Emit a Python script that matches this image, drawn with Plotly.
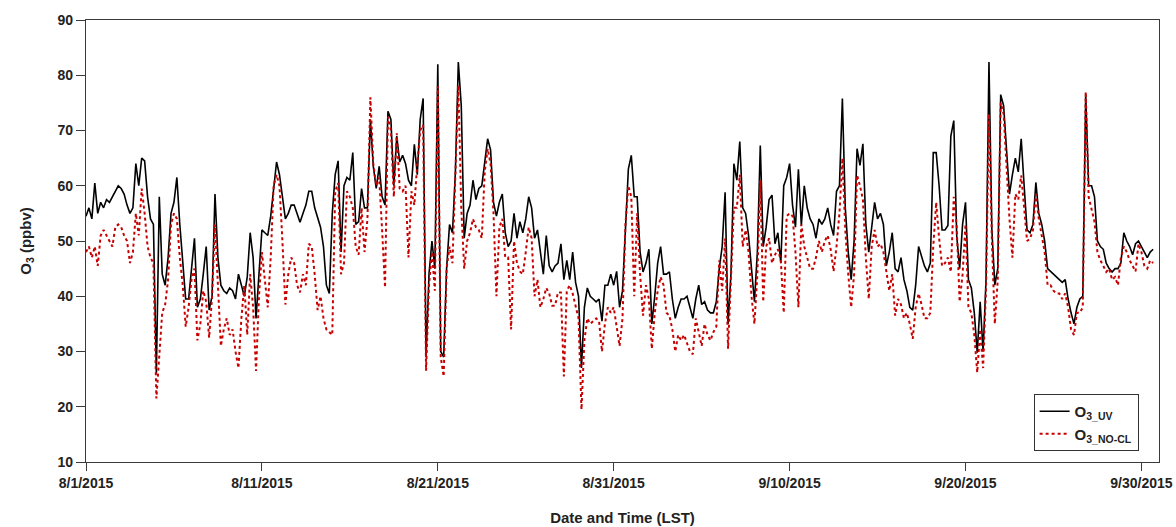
import pandas as pd
import plotly.graph_objects as go

# 4-hourly readings starting 2015-08-01 00:00 LST
start_time = "2015-08-01 00:00"
step = "4h"

o3_uv = [
    54.5, 56, 54, 60.5, 55, 57, 56, 57.5, 57, 58,
    59, 60, 59.5, 58.5, 56.5, 55, 56, 64, 60, 65,
    64.5, 58, 54, 53, 26, 58, 44, 42, 47, 55,
    57, 61.5, 53, 46, 39.5, 39.5, 45, 50.5, 38, 39.5,
    44, 49, 37.5, 40, 58.5, 47, 42, 41, 40.5, 41.5,
    41, 39.5, 44, 42, 40, 43.5, 51.5, 47, 36, 44,
    # i60
    52, 51.5, 51, 54.5, 59.5, 64.3, 62, 57.5, 54, 55,
    56.5, 56.5, 55, 53.4, 55, 56.5, 59, 59, 56, 54,
    52.5, 49, 42, 40.5, 55, 62, 64.5, 48, 60, 61.5,
    61, 66, 53, 53.5, 59.5, 56, 56, 72, 63.5, 59.5,
    63.5, 58, 56.5, 73.5, 72, 60, 69, 64.3, 65.5, 64,
    61, 60, 67.5, 62, 72, 75.8, 29, 44, 50, 45,
    # i120
    82, 30, 29, 45, 53, 51.5, 62.5, 82.4, 74.5, 50.5,
    55, 56.5, 61, 57.5, 59.5, 60, 64.3, 68.5, 66.5, 57,
    54.5, 57, 58.5, 51.5, 49, 50, 55, 50.5, 53.5, 51.5,
    54, 58, 56, 50.5, 52, 48, 44, 51, 45.5, 44.4,
    45.5, 46, 49.5, 43, 46.5, 43, 48, 42.5, 40, 27,
    38, 41.5, 40, 39.5, 39, 39.5, 35.5, 42, 42, 44,
    # i180
    42, 44.5, 38, 41, 51, 63, 65.5, 58, 58, 48,
    44.4, 46, 48.5, 35, 40, 46, 49, 44, 44, 44.4,
    39.5, 36, 38, 39.5, 39.5, 40, 38, 36, 39.5, 42,
    38.5, 39, 37.5, 37, 37, 39, 45, 49, 58.8, 35,
    44, 64, 61, 68, 56, 55, 51, 45, 39, 48,
    67.3, 49, 52.5, 57.5, 58.3, 49.5, 51.5, 46, 60, 61.5,
    # i240
    64, 56.5, 52.5, 63, 52.8, 60, 56, 54, 53, 50.5,
    54, 53, 54, 56, 53, 51, 59, 60, 75.8, 56,
    48, 43, 50, 66.7, 63.7, 67.6, 53, 48, 53, 57,
    54, 55, 53, 45.5, 48, 51.5, 45, 44.4, 47, 43,
    41, 38, 37.5, 42, 49, 47, 45.5, 44.4, 46, 66,
    66, 60, 52, 52, 52.8, 69, 71.8, 51, 45, 53,
    # i300
    57, 43, 41.5, 37, 29.8, 39, 30, 43, 82.4, 52,
    42, 45, 76.5, 74.5, 66, 58.5, 62, 65, 62.5, 68.5,
    60, 52, 51.5, 53, 60.6, 55, 53, 50, 45, 44.5,
    44, 43.5, 43, 42.5, 43, 39.5, 37, 35, 38, 39.5,
    40, 76.5, 60, 60, 58, 50, 49, 48.5, 46, 45,
    44.4, 45, 45, 46, 51.5, 50, 49, 47.5, 49.5, 50,
    49, 48, 47, 48, 48.5,
]

o3_nocl = [
    48, 49, 47, 49, 45.5, 51, 52, 51, 50, 49,
    52.5, 53, 52.5, 51, 50, 46, 48, 55, 51, 59.5,
    55, 49, 47, 46, 21.5, 30, 37, 38.5, 43, 53,
    55, 54, 47, 42, 34.5, 38, 43, 45, 32, 35,
    41, 39, 32.5, 40, 53, 42, 31, 34, 36, 33,
    34, 30, 27, 36, 42, 33, 44, 38, 26.5, 40,
    # i60
    48, 43, 38, 47, 60, 62, 60, 50, 38.5, 44,
    47, 46, 42, 40.7, 44, 42, 49.5, 49, 44, 37.5,
    40, 36, 34, 33.5, 33, 59, 60.5, 44, 46, 59,
    58, 56, 49, 47.5, 56, 48, 54, 76, 64, 60,
    61.5, 52, 41.6, 72.5, 70, 58, 69.5, 59.5, 59, 60,
    47, 59, 56.5, 64, 70, 71, 26.5, 42, 48, 41,
    # i120
    78, 29, 25.5, 45, 49, 46, 62.5, 78.2, 56, 45,
    50, 51.5, 54, 52.5, 52, 50.5, 62.5, 66.7, 64, 55,
    40, 52.5, 54, 47, 47, 34, 50, 46, 44.5, 44,
    48, 52.5, 50.5, 40, 43, 38, 39.5, 41.5, 40.5, 38.3,
    38.3, 40.7, 40.7, 25.5, 41, 42, 40.5, 38.5, 36, 19.5,
    32, 36, 35, 35.5, 36, 35.5, 30, 35, 38, 37,
    # i180
    38, 34.5, 31, 36, 53, 60, 58, 40, 55, 44,
    36.5, 42, 39.5, 30.5, 37, 41, 43.5, 42, 37, 36.5,
    34, 30, 33, 32, 33, 31.5, 30, 29.5, 36, 33.5,
    31, 35, 33, 32, 33.5, 34.5, 46.5, 41, 50.5, 30.5,
    44, 56, 56, 62, 49, 52, 48, 40, 35, 44,
    61, 39, 49, 50.5, 46, 47.5, 48.5, 46.5, 37, 54.5,
    # i240
    55, 54.5, 48, 38, 53, 49, 47, 45, 45, 47,
    50, 48, 50, 51, 48.5, 44.5, 49, 55, 65, 52,
    44, 38, 44, 61.9, 60, 57.5, 47, 39.5, 49, 52,
    49, 49.5, 48, 44, 41, 44, 36.5, 39.5, 38.5, 36,
    37, 35, 32.3, 38, 40.5, 38.5, 36, 36, 37, 49,
    57, 50.5, 45.5, 46, 47, 44.4, 58, 52.5, 39, 44,
    # i300
    53, 38, 37, 33, 26.2, 34, 27, 41.5, 73, 50,
    35, 43, 75, 73, 63.5, 54, 47, 58.5, 57.5, 61.9,
    56, 50, 50.4, 52, 58.5, 54, 51, 48, 42, 42,
    41, 40.5, 40.5, 39.5, 40.5, 38, 34, 33, 37, 37,
    38, 77, 58, 56, 53.5, 48, 46.5, 45.5, 44.4, 45,
    43, 43.5, 42, 47, 49, 48, 46.5, 45.5, 44.5, 49.5,
    48, 45.5, 45, 46.5, 46,
]

tick_dates = ["2015-08-01", "2015-08-11", "2015-08-21", "2015-08-31",
              "2015-09-10", "2015-09-20", "2015-09-30"]
tick_labels = ["8/1/2015", "8/11/2015", "8/21/2015", "8/31/2015",
               "9/10/2015", "9/20/2015", "9/30/2015"]
y_ticks = [10, 20, 30, 40, 50, 60, 70, 80, 90]

t_uv = pd.date_range(start=start_time, periods=len(o3_uv), freq=step)
t_nocl = pd.date_range(start=start_time, periods=len(o3_nocl), freq=step)

FONT = "Liberation Sans, Arial, sans-serif"
AX = "#3a3a3a"

fig = go.Figure()
fig.add_trace(go.Scatter(
    x=t_uv, y=o3_uv, mode="lines", name="O<sub>3_UV</sub>",
    line=dict(color="black", width=1.6),
))
fig.add_trace(go.Scatter(
    x=t_nocl, y=o3_nocl, mode="lines", name="O<sub>3_NO-CL</sub>",
    line=dict(color="#c80000", width=2, dash="dot"),
))

fig.update_layout(
    width=1176, height=527, autosize=False,
    margin=dict(l=86, r=17, t=20, b=65),
    paper_bgcolor="white", plot_bgcolor="white",
    font=dict(family=FONT, size=14, color="#222", weight="bold"),
    showlegend=True,
    legend=dict(
        x=0.981, y=0.025, xanchor="right", yanchor="bottom",
        bgcolor="white", bordercolor="#333", borderwidth=1,
        font=dict(family=FONT, size=15, color="#222", weight="bold"),
        tracegroupgap=0, itemwidth=30,
    ),
)
fig.update_xaxes(
    type="date", range=["2015-08-01", "2015-10-01"], automargin=False,
    tickmode="array", tickvals=tick_dates, ticktext=tick_labels,
    ticks="outside", ticklen=8, tickwidth=1.2, tickcolor=AX,
    showline=True, linecolor=AX, linewidth=1.3, mirror=True,
    showgrid=False, zeroline=False,
    tickfont=dict(family=FONT, size=14, color="#222", weight="bold"),
    title=dict(text="Date and Time (LST)", standoff=22,
               font=dict(family=FONT, size=15, color="#222", weight="bold")),
)
fig.update_yaxes(
    range=[10, 90], tickmode="array", tickvals=y_ticks, automargin=False,
    ticks="outside", ticklen=9, tickwidth=1.2, tickcolor=AX,
    showline=True, linecolor=AX, linewidth=1.3, mirror=True,
    showgrid=False, zeroline=False,
    tickfont=dict(family=FONT, size=14, color="#222", weight="bold"),
    title=dict(text="O<sub>3</sub> (ppbv)", standoff=22,
               font=dict(family=FONT, size=15, color="#222", weight="bold")),
)

fig.write_html("out.html")
